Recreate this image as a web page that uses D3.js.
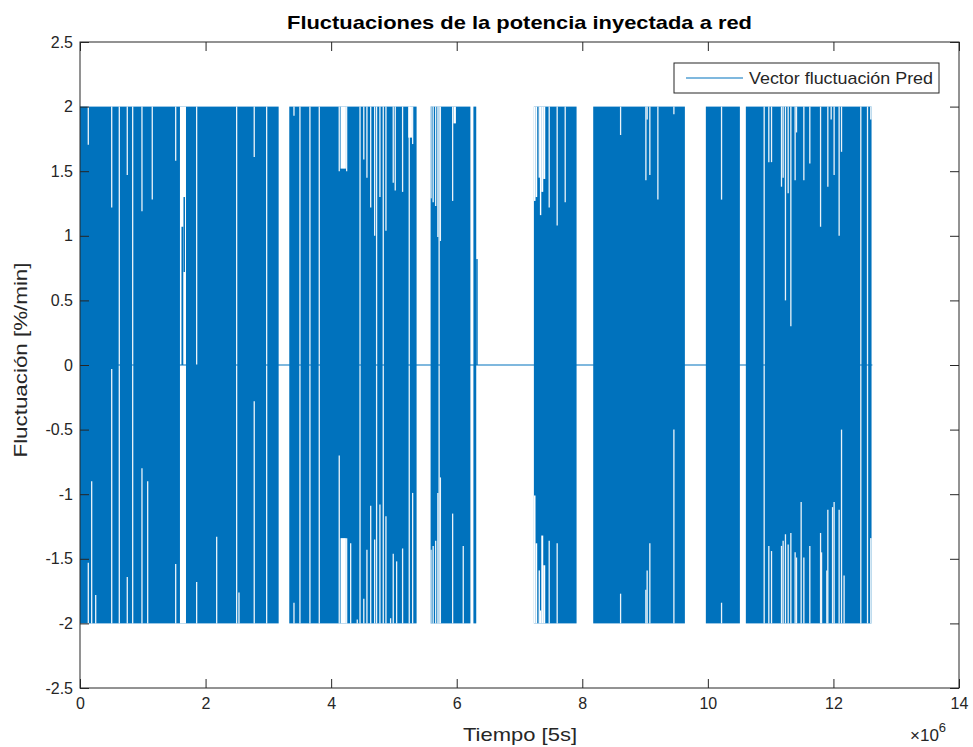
<!DOCTYPE html>
<html><head><meta charset="utf-8">
<script src="https://cdn.jsdelivr.net/npm/d3@7"></script>
<style>
body{margin:0;background:#fff}
text{font-family:"Liberation Sans",Arial,Helvetica,sans-serif;fill:#262626}
</style></head>
<body><svg id="c" width="973" height="747"></svg>
<script>
// ---- data (x in units of 1e6 samples) ----
const xTicks=[0,2,4,6,8,10,12,14];
const yTicks=[-2.5,-2,-1.5,-1,-0.5,0,0.5,1,1.5,2,2.5];
const yTickLabels=["-2.5","-2","-1.5","-1","-0.5","0","0.5","1","1.5","2","2.5"];
// intervals where the signal swings fully between -2 and 2
const activeBlocks=[[0,3.164],[3.333,5.361],[5.584,6.218],[6.266,6.311],[7.229,7.909],[8.174,9.634],[9.968,10.510],[10.605,12.607]];
// sampled stretches where the envelope is narrower: [x0, x1, max, min]
const envelopeBands=[
 [1.592,1.688,0,0],
 [4.150,4.235,1.52,-1.34],
 [5.228,5.287,1.76,-2],
 [5.584,5.600,1.29,-1.43],
 [5.948,5.987,1.87,-2],
 [7.229,7.255,1.27,-1.01],[7.255,7.282,1.30,-1.38],[7.304,7.325,1.45,-1.59],[7.325,7.347,1.16,-1.90],
 [7.347,7.378,1.34,-1.32],[7.378,7.410,1.44,-1.55],
 [12.585,12.607,1.9,-1.34]
];
// single sample columns with a narrower envelope: [x, max, min]
const envelopeCuts=[
 [0.132,1.705,-1.53],[0.186,2,-0.9],[0.250,2,-1.78],[0.505,1.22,-0.03],[0.626,0,0],[0.753,1.47,-1.64],
 [0.839,0,0],[0.987,1.19,-0.8],[1.078,2,-0.9],[1.151,1.28,-2],[1.524,1.58,-1.54],[1.858,0,-1.68],
 [2.177,2,-1.33],[2.495,0,0],[2.532,2,-1.76],[2.775,1.61,-0.28],[2.973,0,0],
 [3.408,1.93,-1.84],[3.503,0,0],[3.662,0,0],[3.811,0,0],[4.129,1.50,-0.7],[4.247,1.50,-1.34],
 [4.311,2,-1.38],[4.416,2,-1.97],[4.46,0,0],
 [4.52,1.59,-1.81],[4.57,1.45,-1.43],[4.63,1.22,-1.09],
 [4.693,1.0,-1.35],[4.724,0,0],[4.777,1.30,-1.08],
 [4.830,0,0],[4.873,1.04,-1.17],[4.947,2,-1.96],[4.989,1.41,-1.46],[5.021,1.35,-2],
 [5.043,2,-1.52],[5.138,1.34,-1.42],[5.244,0,0],[5.298,1.71,-0.99],
 [5.625,1.26,-1.40],[5.665,1.23,-1.36],[5.70,0.99,-0.99],[5.720,0,0],[5.74,0.96,-0.87],
 [5.935,1.27,-1.15],[6.104,2,-1.40],
 [7.473,1.22,-1.36],[7.600,1.08,-1.38],[7.728,1.26,-2],
 [8.610,1.78,-1.77],[9.013,1.43,-1.74],[9.033,1.9,-1.59],[9.076,1.47,-1.38],[9.204,1.28,-2],[9.459,1.94,-0.5],
 [10.218,1.28,-1.84],
 [10.897,0,0],[10.971,1.57,-1.40],[11.014,1.57,-1.44],[11.173,1.38,-1.40],[11.199,1.45,-1.36],
 [11.236,0.5,-1.31],[11.279,1.33,-1.39],[11.322,0.3,-1.30],[11.390,1.43,-1.45],[11.412,1.8,-1.49],
 [11.486,2,-1.06],[11.529,1.43,-1.49],[11.624,1.56,-1.40],[11.795,1.07,-1.30],[11.811,2,-1.45],
 [11.895,2,-1.59],[11.911,1.38,-1.12],[11.964,1.9,-2],[11.986,2,-1.10],[12.011,1.47,-1.06],
 [12.091,1.0,-1.12],[12.129,1.65,-0.5],[12.170,2,-1.63],[12.436,0,0],[12.543,0,0]
];
// isolated partial swings inside quiet stretches: [x0, x1, max, min]
const islands=[[1.616,1.645,1.07,0],[1.648,1.672,1.30,0.72],[6.311,6.334,0.82,0]];
const signalSpan=[0,12.62];
const seriesName="Vector fluctuación Pred";

// ---- drawing ----
const svg=d3.select("#c");
const L=80,R=959,T=42,B=688;
const x=d3.scaleLinear().domain([0,14]).range([L,R]);
const y=d3.scaleLinear().domain([-2.5,2.5]).range([B,T]);
const blue="#0072BD";
const plot=svg.append("g");
plot.selectAll("rect.blk").data(activeBlocks).enter().append("rect")
 .attr("x",d=>x(d[0])).attr("width",d=>x(d[1])-x(d[0]))
 .attr("y",y(2)).attr("height",y(-2)-y(2)).attr("fill",blue);
const whiteRects=[];
envelopeBands.forEach(d=>{
 if(d[2]<2) whiteRects.push([d[0],d[1],2,d[2]]);
 if(d[3]>-2) whiteRects.push([d[0],d[1],d[3],-2]);
});
plot.selectAll("rect.w").data(whiteRects).enter().append("rect")
 .attr("x",d=>x(d[0])).attr("width",d=>x(d[1])-x(d[0]))
 .attr("y",d=>y(d[2])).attr("height",d=>y(d[3])-y(d[2])).attr("fill","#fff");
const whiteLines=[];
envelopeCuts.forEach(d=>{
 if(d[1]<2) whiteLines.push([d[0],2,d[1]]);
 if(d[2]>-2) whiteLines.push([d[0],d[2],-2]);
});
plot.selectAll("line.w").data(whiteLines).enter().append("line")
 .attr("x1",d=>x(d[0])).attr("x2",d=>x(d[0]))
 .attr("y1",d=>y(d[1])).attr("y2",d=>y(d[2]))
 .attr("stroke","#fff").attr("stroke-width",1.3).attr("opacity",0.92);
plot.selectAll("rect.isl").data(islands).enter().append("rect")
 .attr("x",d=>x(d[0])).attr("width",d=>Math.max(1,x(d[1])-x(d[0])))
 .attr("y",d=>y(d[2])).attr("height",d=>y(d[3])-y(d[2])).attr("fill",blue);
plot.append("line").attr("x1",x(signalSpan[0])).attr("x2",x(signalSpan[1]))
 .attr("y1",y(0)).attr("y2",y(0)).attr("stroke",blue).attr("stroke-width",1.2);

// axes
const ac="#262626";
function styleAxis(g){g.select(".domain").remove();g.selectAll("line").attr("stroke",ac);
 g.selectAll("text").attr("fill",ac).style("font-size","16px").style("font-family",'"Liberation Sans",Arial,sans-serif');}
svg.append("g").attr("transform",`translate(0,${B})`)
 .call(d3.axisBottom(x).tickValues(xTicks).tickSizeInner(-9).tickSizeOuter(0).tickPadding(10)).call(styleAxis);
svg.append("g").attr("transform",`translate(0,${T})`)
 .call(d3.axisTop(x).tickValues(xTicks).tickSizeInner(-9).tickSizeOuter(0).tickFormat("")).call(styleAxis);
svg.append("g").attr("transform",`translate(${L},0)`)
 .call(d3.axisLeft(y).tickValues(yTicks).tickFormat((d,i)=>yTickLabels[i]).tickSizeInner(-9).tickSizeOuter(0).tickPadding(7)).call(styleAxis);
svg.append("g").attr("transform",`translate(${R},0)`)
 .call(d3.axisRight(y).tickValues(yTicks).tickSizeInner(-9).tickSizeOuter(0).tickFormat("")).call(styleAxis);
svg.append("rect").attr("x",L).attr("y",T).attr("width",R-L).attr("height",B-T)
 .attr("fill","none").attr("stroke",ac).attr("stroke-width",1);

// titles
svg.append("text").attr("x",519.5).attr("y",29).attr("text-anchor","middle")
 .attr("textLength",465).attr("lengthAdjust","spacingAndGlyphs")
 .style("font-size","19px").style("font-weight","bold").style("fill","#000")
 .text("Fluctuaciones de la potencia inyectada a red");
svg.append("text").attr("x",520).attr("y",741).attr("text-anchor","middle")
 .attr("textLength",114).attr("lengthAdjust","spacingAndGlyphs")
 .style("font-size","19px").text("Tiempo [5s]");
svg.append("text").attr("transform","translate(27,360) rotate(-90)").attr("text-anchor","middle")
 .attr("textLength",195).attr("lengthAdjust","spacingAndGlyphs")
 .style("font-size","19px").text("Fluctuación [%/min]");
const ex=svg.append("text").attr("x",910).attr("y",741).style("font-size","17px");
ex.append("tspan").text("×10");
ex.append("tspan").attr("dy",-9).style("font-size","13px").text("6");

// legend
svg.append("rect").attr("x",674).attr("y",63).attr("width",265).attr("height",30)
 .attr("fill","#fff").attr("stroke",ac).attr("stroke-width",1);
svg.append("line").attr("x1",686).attr("x2",743).attr("y1",78).attr("y2",78)
 .attr("stroke",blue).attr("stroke-width",1.2);
svg.append("text").attr("x",749).attr("y",84)
 .attr("textLength",184).attr("lengthAdjust","spacingAndGlyphs")
 .style("font-size","17px").text(seriesName);
</script></body></html>
